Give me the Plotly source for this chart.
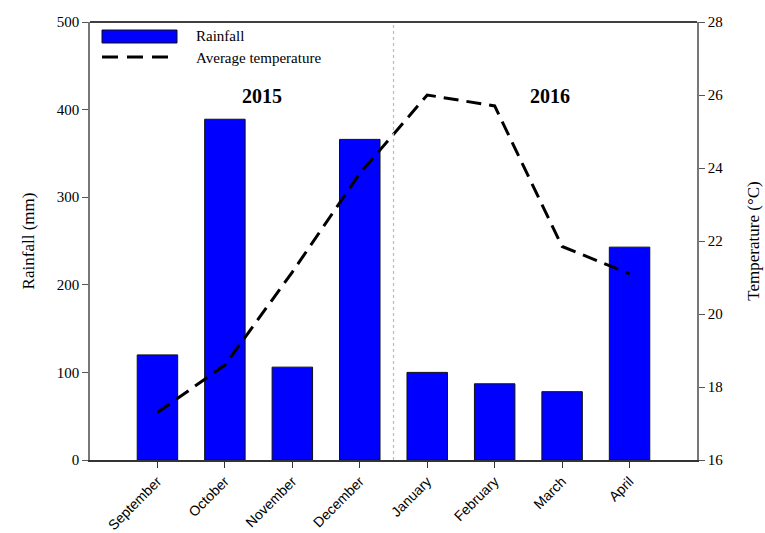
import plotly.graph_objects as go

months = ["September", "October", "November", "December", "January", "February", "March", "April"]
rainfall = [120, 389, 106, 366, 100, 87, 78, 243]
temperature = [17.3, 18.6, 21.15, 23.85, 26.0, 25.7, 21.85, 21.1]
rain_ticks = [0, 100, 200, 300, 400, 500]
temp_ticks = [16, 18, 20, 22, 24, 26, 28]

xs = list(range(len(months)))
serif = "Liberation Serif, Times New Roman, serif"
sans = "Liberation Sans, Arial, sans-serif"

fig = go.Figure()
fig.add_trace(go.Bar(
    x=xs, y=rainfall, width=0.6, name="Rainfall",
    marker=dict(color="#0000FF", line=dict(color="#111111", width=1)),
    showlegend=False,
))
fig.add_trace(go.Scatter(
    x=xs, y=temperature, yaxis="y2", mode="lines", name="Average temperature",
    line=dict(color="black", width=3, dash="15px,8px"),
    showlegend=False,
))

L, R, T, B = 90, 68, 22, 73
W, H = 765, 533
pw, ph = W - L - R, H - T - B

def px(x):
    return (x - L) / pw

def py(y):
    return (H - B - y) / ph

shapes = [
    dict(type="line", xref="x", yref="paper", x0=3.5, x1=3.5, y0=0, y1=1,
         line=dict(color="#bbbbbb", width=1.2, dash="dot")),
    dict(type="line", xref="paper", yref="paper", x0=0, x1=1, y0=1, y1=1,
         line=dict(color="black", width=1.5)),
    dict(type="rect", xref="paper", yref="paper", x0=px(102), x1=px(177), y0=py(43), y1=py(30),
         fillcolor="#0000FF", line=dict(color="#111111", width=1)),
    dict(type="line", xref="paper", yref="paper", x0=px(102), x1=px(174), y0=py(57), y1=py(57),
         line=dict(color="black", width=3, dash="16px,9px")),
]

annotations = [
    dict(text="Rainfall", xref="paper", yref="paper", x=px(194), y=py(36),
         xanchor="left", yanchor="middle", showarrow=False,
         font=dict(family=serif, size=15, color="black")),
    dict(text="Average temperature", xref="paper", yref="paper", x=px(194), y=py(58),
         xanchor="left", yanchor="middle", showarrow=False,
         font=dict(family=serif, size=15, color="black")),
    dict(text="<b>2015</b>", xref="paper", yref="paper", x=px(262), y=py(96),
         xanchor="center", yanchor="middle", showarrow=False,
         font=dict(family=serif, size=20, color="black")),
    dict(text="<b>2016</b>", xref="paper", yref="paper", x=px(550), y=py(96),
         xanchor="center", yanchor="middle", showarrow=False,
         font=dict(family=serif, size=20, color="black")),
]

fig.update_layout(
    width=W, height=H,
    margin=dict(l=L, r=R, t=T, b=B, pad=0),
    plot_bgcolor="white", paper_bgcolor="white",
    xaxis=dict(
        range=[-1, 8], tickmode="array", tickvals=xs, ticktext=months,
        tickangle=-45, ticks="outside", ticklen=6, tickcolor="#333333",
        showline=True, linecolor="#333333", linewidth=1.5, showgrid=False, zeroline=False,
        tickfont=dict(family=sans, size=14, color="black"), automargin=False,
    ),
    yaxis=dict(
        range=[0, 500], tickmode="array", tickvals=rain_ticks,
        ticks="outside", ticklen=6, tickcolor="#555555",
        showline=True, linecolor="#777777", linewidth=1.5, showgrid=False, zeroline=False,
        tickfont=dict(family=serif, size=15, color="black"), automargin=False,
        title=dict(text="Rainfall (mm)", font=dict(family=serif, size=17, color="black"), standoff=18),
    ),
    yaxis2=dict(
        range=[16, 28], tickmode="array", tickvals=temp_ticks, overlaying="y", side="right",
        ticks="outside", ticklen=6, tickcolor="#555555",
        showline=True, linecolor="#777777", linewidth=1.5, showgrid=False, zeroline=False,
        tickfont=dict(family=serif, size=15, color="black"), automargin=False,
        title=dict(text="Temperature (°C)", font=dict(family=serif, size=17, color="black"), standoff=25),
    ),
    shapes=shapes,
    annotations=annotations,
    showlegend=False,
)

fig.write_html("out.html")
